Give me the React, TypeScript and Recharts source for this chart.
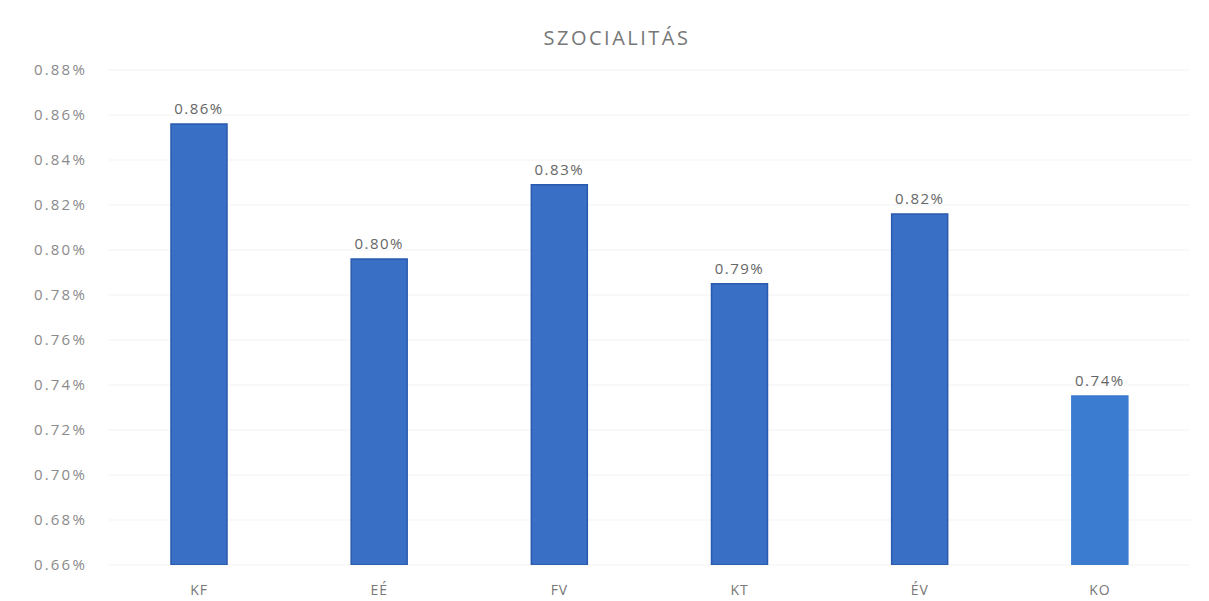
import React from 'react';
import { BarChart, Bar, XAxis, YAxis, CartesianGrid, LabelList, Cell } from 'recharts';

const categories = ['KF', 'EÉ', 'FV', 'KT', 'ÉV', 'KO'];
const values = [0.856, 0.796, 0.829, 0.785, 0.816, 0.7351];
const yTicks = [0.66, 0.68, 0.7, 0.72, 0.74, 0.76, 0.78, 0.8, 0.82, 0.84, 0.86, 0.88];
const barFills = ['#3a6fc6', '#3a6fc6', '#3a6fc6', '#3a6fc6', '#3a6fc6', '#3b7bd0'];
const barStrokes = ['#2a5aad', '#2a5aad', '#2a5aad', '#2a5aad', '#2a5aad', '#3b7bd0'];

const data = categories.map((name, i) => ({ name, value: values[i] }));

const FONT = '"Open Sans", "DejaVu Sans", sans-serif';
const fmt = (v: number) => `${v.toFixed(2)}%`;

export default function App() {
  return (
    <div style={{ position: 'fixed', left: 0, top: 0, width: 1209, height: 601, background: '#fff', fontFamily: FONT }}>
      <div
        style={{
          position: 'absolute',
          top: 24,
          left: 0,
          width: 1234,
          textAlign: 'center',
          fontSize: 20,
          color: '#777',
          letterSpacing: 2.5,
        }}
      >
        SZOCIALITÁS
      </div>
      <BarChart
        width={1209}
        height={601}
        data={data}
        margin={{ top: 70, right: 19, bottom: 6, left: 0 }}
        barCategoryGap={0}
      >
        <CartesianGrid vertical={false} stroke="#f3f3f3" />
        <XAxis
          dataKey="name"
          axisLine={false}
          tickLine={false}
          height={30}
          tickMargin={14}
          tick={{ fill: '#777', fontSize: 14, fontFamily: FONT, letterSpacing: 1 }}
        />
        <YAxis
          type="number"
          domain={[0.66, 0.88]}
          ticks={yTicks}
          allowDataOverflow
          axisLine={false}
          tickLine={false}
          width={109}
          tickMargin={16}
          tickFormatter={fmt}
          tick={{ fill: '#8a8a8a', fontSize: 15, fontFamily: FONT, letterSpacing: 2.2 }}
        />
        <Bar dataKey="value" strokeWidth={1.5} barSize={56} isAnimationActive={false}>
          {data.map((d, i) => (
            <Cell key={d.name} fill={barFills[i]} stroke={barStrokes[i]} />
          ))}
          <LabelList
            dataKey="value"
            position="top"
            offset={10}
            formatter={(v: any) => fmt(Number(v))}
            style={{ fill: '#666', fontSize: 15, fontFamily: FONT, letterSpacing: 1.5 }}
          />
        </Bar>
      </BarChart>
    </div>
  );
}
